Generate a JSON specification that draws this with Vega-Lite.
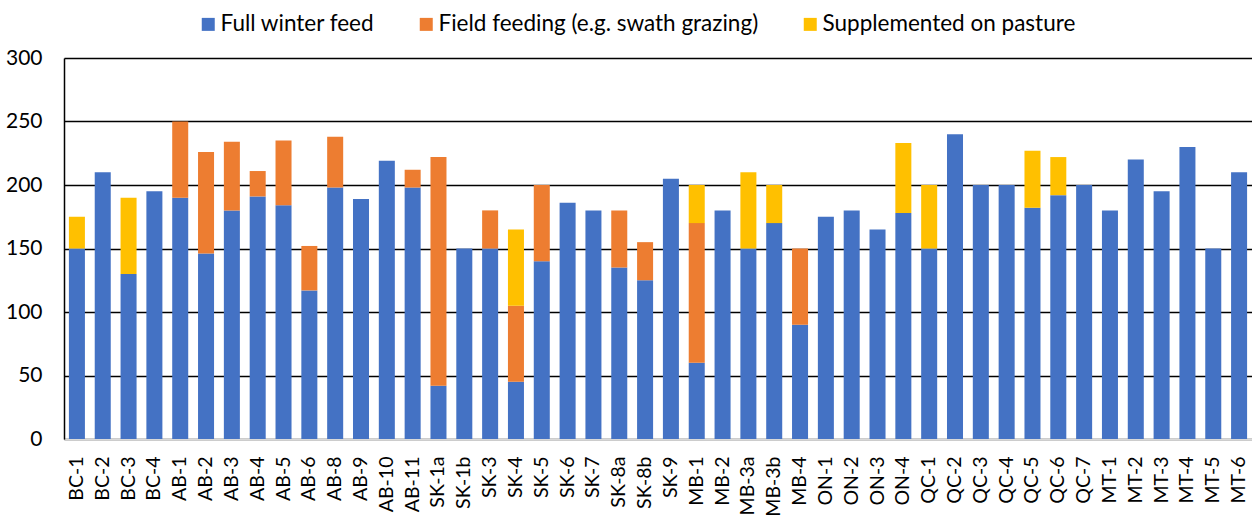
{
  "$schema": "https://vega.github.io/schema/vega-lite/v6.json",
  "autosize": "none",
  "width": 1188,
  "height": 381,
  "padding": {"left": 64, "top": 58, "right": 0, "bottom": 78},
  "background": "white",
  "config": {
    "font": "Lato",
    "view": {"stroke": null}
  },
  "data": {
    "values": [
      {"s":"BC-1","t":"Full winter feed","v":150,"k":1},
      {"s":"BC-1","t":"Supplemented on pasture","v":25,"k":3},
      {"s":"BC-2","t":"Full winter feed","v":210,"k":1},
      {"s":"BC-3","t":"Full winter feed","v":130,"k":1},
      {"s":"BC-3","t":"Supplemented on pasture","v":60,"k":3},
      {"s":"BC-4","t":"Full winter feed","v":195,"k":1},
      {"s":"AB-1","t":"Full winter feed","v":190,"k":1},
      {"s":"AB-1","t":"Field feeding (e.g. swath grazing)","v":60,"k":2},
      {"s":"AB-2","t":"Full winter feed","v":146,"k":1},
      {"s":"AB-2","t":"Field feeding (e.g. swath grazing)","v":80,"k":2},
      {"s":"AB-3","t":"Full winter feed","v":180,"k":1},
      {"s":"AB-3","t":"Field feeding (e.g. swath grazing)","v":54,"k":2},
      {"s":"AB-4","t":"Full winter feed","v":191,"k":1},
      {"s":"AB-4","t":"Field feeding (e.g. swath grazing)","v":20,"k":2},
      {"s":"AB-5","t":"Full winter feed","v":184,"k":1},
      {"s":"AB-5","t":"Field feeding (e.g. swath grazing)","v":51,"k":2},
      {"s":"AB-6","t":"Full winter feed","v":117,"k":1},
      {"s":"AB-6","t":"Field feeding (e.g. swath grazing)","v":35,"k":2},
      {"s":"AB-8","t":"Full winter feed","v":198,"k":1},
      {"s":"AB-8","t":"Field feeding (e.g. swath grazing)","v":40,"k":2},
      {"s":"AB-9","t":"Full winter feed","v":189,"k":1},
      {"s":"AB-10","t":"Full winter feed","v":219,"k":1},
      {"s":"AB-11","t":"Full winter feed","v":198,"k":1},
      {"s":"AB-11","t":"Field feeding (e.g. swath grazing)","v":14,"k":2},
      {"s":"SK-1a","t":"Full winter feed","v":42,"k":1},
      {"s":"SK-1a","t":"Field feeding (e.g. swath grazing)","v":180,"k":2},
      {"s":"SK-1b","t":"Full winter feed","v":150,"k":1},
      {"s":"SK-3","t":"Full winter feed","v":150,"k":1},
      {"s":"SK-3","t":"Field feeding (e.g. swath grazing)","v":30,"k":2},
      {"s":"SK-4","t":"Full winter feed","v":45,"k":1},
      {"s":"SK-4","t":"Field feeding (e.g. swath grazing)","v":60,"k":2},
      {"s":"SK-4","t":"Supplemented on pasture","v":60,"k":3},
      {"s":"SK-5","t":"Full winter feed","v":140,"k":1},
      {"s":"SK-5","t":"Field feeding (e.g. swath grazing)","v":60,"k":2},
      {"s":"SK-6","t":"Full winter feed","v":186,"k":1},
      {"s":"SK-7","t":"Full winter feed","v":180,"k":1},
      {"s":"SK-8a","t":"Full winter feed","v":135,"k":1},
      {"s":"SK-8a","t":"Field feeding (e.g. swath grazing)","v":45,"k":2},
      {"s":"SK-8b","t":"Full winter feed","v":125,"k":1},
      {"s":"SK-8b","t":"Field feeding (e.g. swath grazing)","v":30,"k":2},
      {"s":"SK-9","t":"Full winter feed","v":205,"k":1},
      {"s":"MB-1","t":"Full winter feed","v":60,"k":1},
      {"s":"MB-1","t":"Field feeding (e.g. swath grazing)","v":110,"k":2},
      {"s":"MB-1","t":"Supplemented on pasture","v":30,"k":3},
      {"s":"MB-2","t":"Full winter feed","v":180,"k":1},
      {"s":"MB-3a","t":"Full winter feed","v":150,"k":1},
      {"s":"MB-3a","t":"Supplemented on pasture","v":60,"k":3},
      {"s":"MB-3b","t":"Full winter feed","v":170,"k":1},
      {"s":"MB-3b","t":"Supplemented on pasture","v":30,"k":3},
      {"s":"MB-4","t":"Full winter feed","v":90,"k":1},
      {"s":"MB-4","t":"Field feeding (e.g. swath grazing)","v":60,"k":2},
      {"s":"ON-1","t":"Full winter feed","v":175,"k":1},
      {"s":"ON-2","t":"Full winter feed","v":180,"k":1},
      {"s":"ON-3","t":"Full winter feed","v":165,"k":1},
      {"s":"ON-4","t":"Full winter feed","v":178,"k":1},
      {"s":"ON-4","t":"Supplemented on pasture","v":55,"k":3},
      {"s":"QC-1","t":"Full winter feed","v":150,"k":1},
      {"s":"QC-1","t":"Supplemented on pasture","v":50,"k":3},
      {"s":"QC-2","t":"Full winter feed","v":240,"k":1},
      {"s":"QC-3","t":"Full winter feed","v":200,"k":1},
      {"s":"QC-4","t":"Full winter feed","v":200,"k":1},
      {"s":"QC-5","t":"Full winter feed","v":182,"k":1},
      {"s":"QC-5","t":"Supplemented on pasture","v":45,"k":3},
      {"s":"QC-6","t":"Full winter feed","v":192,"k":1},
      {"s":"QC-6","t":"Supplemented on pasture","v":30,"k":3},
      {"s":"QC-7","t":"Full winter feed","v":200,"k":1},
      {"s":"MT-1","t":"Full winter feed","v":180,"k":1},
      {"s":"MT-2","t":"Full winter feed","v":220,"k":1},
      {"s":"MT-3","t":"Full winter feed","v":195,"k":1},
      {"s":"MT-4","t":"Full winter feed","v":230,"k":1},
      {"s":"MT-5","t":"Full winter feed","v":150,"k":1},
      {"s":"MT-6","t":"Full winter feed","v":210,"k":1}
    ]
  },
  "mark": {"type": "bar"},
  "encoding": {
    "x": {
      "field": "s",
      "type": "nominal",
      "sort": null,
      "scale": {"paddingInner": 0.38, "paddingOuter": 0.19},
      "axis": {
        "title": null,
        "labelAngle": -90,
        "labelFontSize": 19.5,
        "labelColor": "#000",
        "labelPadding": 17,
        "ticks": false,
        "domainColor": "#d9d9d9",
        "domainWidth": 2,
        "labelOverlap": false
      }
    },
    "y": {
      "field": "v",
      "type": "quantitative",
      "stack": "zero",
      "scale": {"domain": [0, 300], "nice": false},
      "axis": {
        "title": null,
        "values": [0, 50, 100, 150, 200, 250, 300],
        "labelFontSize": 21,
        "labelColor": "#000",
        "labelPadding": 22,
        "ticks": false,
        "domainColor": "#000",
        "domainWidth": 1.5,
        "gridColor": "#000",
        "gridWidth": 1.3,
        "gridOpacity": 1
      }
    },
    "color": {
      "field": "t",
      "type": "nominal",
      "scale": {
        "domain": ["Full winter feed", "Field feeding (e.g. swath grazing)", "Supplemented on pasture"],
        "range": ["#4472C4", "#ED7D31", "#FFC000"]
      },
      "legend": {
        "title": null,
        "orient": "none",
        "legendX": 133,
        "legendY": -45,
        "direction": "horizontal",
        "columns": 3,
        "columnPadding": 40,
        "symbolType": "square",
        "symbolSize": 169,
        "symbolStrokeWidth": 0,
        "symbolOffset": 0,
        "labelOffset": 1,
        "labelFontSize": 22.5,
        "labelColor": "#000",
        "labelLimit": 500
      }
    },
    "order": {"field": "k", "type": "quantitative", "sort": "ascending"}
  }
}
